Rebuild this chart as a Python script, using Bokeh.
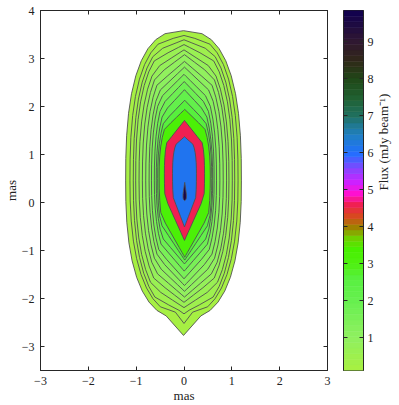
import numpy as np
from bokeh.plotting import figure
from bokeh.layouts import row
from bokeh.models import LinearAxis, FixedTicker, Range1d
from bokeh.embed import file_html
from bokeh.resources import INLINE

# ---- data -----------------------------------------------------------------
# contour levels (mJy/beam), outermost to innermost
levels = [0.15, 0.30, 0.45, 0.60, 0.75, 0.90, 1.10, 1.30, 1.55, 1.80, 2.10, 2.60, 3.20, 4.65, 6.10, 9.60]
# extents of each closed contour (mas)
top    = [3.58, 3.48, 3.39, 3.29, 3.18, 3.08, 2.94, 2.82, 2.67, 2.52, 2.35, 2.13, 1.94, 1.71, 1.37, 0.42]
bottom = [-2.42, -2.34, -2.30, -2.19, -2.08, -1.97, -1.85, -1.73, -1.59, -1.43, -1.28, -1.20, -1.14, -0.79, -0.51, 0.04]
tip    = [-2.77, -2.52, -2.32, -2.19, -2.08, -1.97, -1.85, -1.73, -1.59, -1.43, -1.28, -1.20, -1.14, -0.79, -0.51, 0.04]
left   = [-1.22, -1.13, -1.06, -1.01, -0.94, -0.87, -0.80, -0.73, -0.68, -0.62, -0.58, -0.55, -0.52, -0.41, -0.24, -0.02]
right  = [1.20, 1.13, 1.06, 1.01, 0.94, 0.89, 0.82, 0.75, 0.68, 0.63, 0.60, 0.58, 0.55, 0.43, 0.26, 0.05]
widest = [0.45, 0.45, 0.45, 0.45, 0.45, 0.45, 0.45, 0.45, 0.45, 0.45, 0.45, 0.50, 0.55, 0.60, 0.60, 0.12]
# shape of each outline: boxiness of the upper / lower halves and slope of the pointed ends
n_up   = [2.6, 2.6, 2.6, 2.6, 2.5, 2.5, 2.5, 2.5, 2.5, 2.5, 2.4, 2.4, 2.4, 2.5, 2.5, 2.0]
n_low  = [2.5, 2.4, 2.4, 2.4, 2.3, 2.3, 2.3, 2.3, 2.3, 2.3, 2.3, 2.4, 2.4, 2.5, 2.5, 2.0]
k_up   = [20, 10, 7, 5.5, 4.5, 4.0, 3.6, 3.4, 3.3, 3.2, 3.0, 2.8, 2.7, 2.1, 3.5, 1.2]
k_low  = [20, 8, 5, 4.0, 3.5, 3.2, 3.0, 2.8, 2.7, 2.6, 2.5, 2.0, 1.8, 1.5, 1.7, 3.0]

x_ticks = [-3, -2, -1, 0, 1, 2, 3]
y_ticks = [-3, -2, -1, 0, 1, 2, 3, 4]
cbar_ticks = [1, 2, 3, 4, 5, 6, 7, 8, 9]
flux_min, flux_max = 0.12, 9.85

# colour map anchors
cmap_vals = [0.12, 1.0, 2.0, 2.6, 3.0, 3.4, 3.7, 4.0, 4.3, 4.6, 4.9, 5.2, 5.6, 6.0, 6.5, 7.0, 7.5, 8.0, 8.5, 9.0, 9.85]
cmap_cols = ["#a8f040", "#90f060", "#68f050", "#58f040", "#50f010", "#48f000", "#70d000",
             "#a08000", "#d84820", "#f02050", "#ff10d0", "#d020ff", "#8048ff", "#2070ff",
             "#2080c0", "#207060", "#206030", "#204818", "#302818", "#301830", "#100050"]

# ---- palette ---------------------------------------------------------------
def hex2rgb(h):
    return [int(h[i:i + 2], 16) for i in (1, 3, 5)]

NC = 64
edges = np.linspace(flux_min, flux_max, NC + 1)
centers = (edges[:-1] + edges[1:]) / 2
rgb = np.array([hex2rgb(c) for c in cmap_cols], dtype=float)
palette = ["#%02x%02x%02x" % tuple(int(round(np.interp(v, cmap_vals, rgb[:, k]))) for k in range(3))
           for v in centers]

def color_of(v):
    i = int((v - flux_min) / (flux_max - flux_min) * NC)
    return palette[max(0, min(NC - 1, i))]

# ---- contour outlines ------------------------------------------------------
s_smp = np.array([0.0, 0.15, 0.3, 0.45, 0.58, 0.7, 0.8, 0.88, 0.94, 0.98, 1.0])

def half(s, n, k):
    return np.minimum((1 - s ** n) ** (1 / n), k * (1 - s))

xs_all, ys_all, fills = [], [], []
for i in range(len(levels)):
    cx = (left[i] + right[i]) / 2
    a = (right[i] - left[i]) / 2
    bu = top[i] - widest[i]
    bl = widest[i] - bottom[i]
    hl = half(s_smp, n_low[i], k_low[i])
    hu = half(s_smp, n_up[i], k_up[i])
    yl = widest[i] - bl * s_smp
    yl[-1] = min(yl[-1], tip[i])
    yu = widest[i] + bu * s_smp
    # right side from bottom to top, then left side from top to bottom
    rx = list(cx + a * hl[::-1]) + list(cx + a * hu[1:])
    ry = list(yl[::-1]) + list(yu[1:])
    lx = list(cx - a * hu[::-1][1:]) + list(cx - a * hl[1:-1])
    ly = list(yu[::-1][1:]) + list(yl[1:-1])
    xs_all.append(rx + lx)
    ys_all.append(ry + ly)
    fills.append(color_of(levels[i]))

FONT = "Liberation Serif"
AX = "#262626"

def minus(v):
    return ("\u2212" + str(abs(v))) if v < 0 else str(v)

p = figure(x_range=Range1d(-3, 3), y_range=Range1d(-3.5, 4),
           frame_width=287, frame_height=360,
           output_backend="svg", toolbar_location=None,
           min_border_left=39, min_border_right=8, min_border_top=10, min_border_bottom=20)
p.grid.visible = False
p.outline_line_color = AX
p.background_fill_color = "white"

p.patches(xs_all, ys_all, fill_color=fills, line_color="#505050", line_width=0.9)

for ax, ticks in ((p.xaxis[0], x_ticks), (p.yaxis[0], y_ticks)):
    ax.ticker = FixedTicker(ticks=ticks)
    ax.major_label_overrides = {v: minus(v) for v in ticks}
    ax.minor_tick_line_color = None
    ax.major_tick_in = 4
    ax.major_tick_out = 0
    ax.axis_line_color = AX
    ax.major_tick_line_color = AX
    ax.major_label_text_font = FONT
    ax.major_label_text_font_size = "12px"
    ax.major_label_text_color = "#222"
    ax.major_label_standoff = 6
    ax.axis_label = "mas"
    ax.axis_label_text_font = FONT
    ax.axis_label_text_font_size = "13px"
    ax.axis_label_text_font_style = "normal"
    ax.axis_label_text_color = "#222"
    ax.axis_label_standoff = 0

def bare_axis(ticks):
    return LinearAxis(ticker=FixedTicker(ticks=ticks),
                      major_label_overrides={v: "" for v in ticks},
                      major_label_text_font_size="0px",
                      major_label_standoff=0, major_tick_in=4, major_tick_out=0,
                      minor_tick_line_color=None, axis_line_color=AX, major_tick_line_color=AX)

p.add_layout(bare_axis(x_ticks), "above")
p.add_layout(bare_axis(y_ticks), "right")

# ---- colour bar ------------------------------------------------------------
cb = figure(x_range=Range1d(0, 1), y_range=Range1d(flux_min, flux_max),
            frame_width=20, frame_height=360,
            output_backend="svg", toolbar_location=None,
            min_border_left=8, min_border_right=4, min_border_top=10, min_border_bottom=20,
            y_axis_location="right")
cb.grid.visible = False
cb.outline_line_color = AX
cb.xaxis.visible = False
cb.quad(left=0, right=1, bottom=edges[:-1], top=edges[1:], fill_color=palette,
        line_color=palette, line_width=0.6)
yax = cb.yaxis[0]
yax.ticker = FixedTicker(ticks=cbar_ticks)
yax.minor_tick_line_color = None
yax.major_tick_in = 4
yax.major_tick_out = 0
yax.axis_line_color = AX
yax.major_tick_line_color = AX
yax.major_label_text_font = FONT
yax.major_label_text_font_size = "12px"
yax.major_label_text_color = "#222"
yax.major_label_standoff = 4
yax.axis_label = "Flux (mJy beam\u207b\u00b9)"
yax.axis_label_text_font = FONT
yax.axis_label_text_font_size = "13px"
yax.axis_label_text_font_style = "normal"
yax.axis_label_text_color = "#222"
yax.axis_label_standoff = 7
try:
    yax.axis_label_orientation = np.pi / 2
except Exception:
    pass
cb.add_layout(bare_axis(cbar_ticks), "left")

layout = row(p, cb)
open("out.html", "w").write(file_html(layout, INLINE))
